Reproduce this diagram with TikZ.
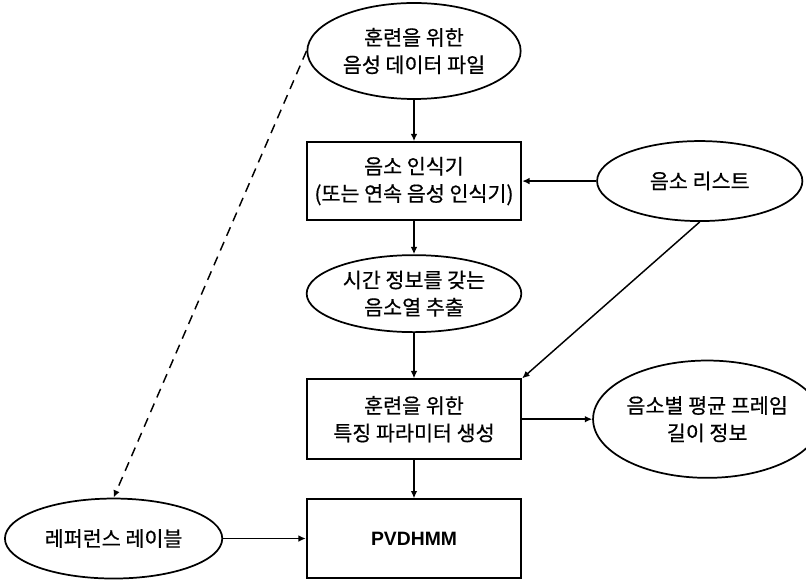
\documentclass[tikz,border=0pt]{standalone}
\usepackage{fontspec}
\setmainfont{Noto Sans CJK KR}[FakeBold=0.6]
\newfontfamily\arialfont{Liberation Sans}
\usetikzlibrary{arrows.meta,positioning,shapes.geometric}

\begin{document}
\begin{tikzpicture}[
  x=0.75pt, y=-0.75pt,
  font=\fontsize{15.5}{20.5}\selectfont,
  box/.style={draw=black, rectangle, line width=1.3pt, minimum width=161pt, minimum height=59pt, align=center, inner sep=3pt},
  oval/.style={draw=black, ellipse, line width=1.3pt, minimum width=160pt, minimum height=60pt, align=center, inner sep=0pt},
  arrow/.style={-{Latex[length=5.5pt, width=5pt]}, line width=1.1pt},
]
  \useasboundingbox (0,0) rectangle (806,580);

  \node[oval, minimum height=72pt] (data) at (414,51) {훈련을 위한\\음성 데이터 파일};
  \node[box, minimum height=58.5pt, below=31pt of data] (recog) {음소 인식기\\(또는 연속 음성 인식기)};
  \node[oval, minimum width=161pt, minimum height=57.75pt, below=25pt of recog] (seq) {시간 정보를 갖는\\음소열 추출};
  \node[box, minimum height=60pt, below=34pt of seq] (param) {훈련을 위한\\특징 파라미터 생성};
  \node[box, minimum height=59pt, below=28.7pt of param] (pvd) {\arialfont\bfseries\fontsize{14.5}{17}\selectfont PVDHMM};

  \node[oval, minimum width=154pt, right=55.5pt of recog] (list) {음소 리스트};
  \node[oval, minimum width=158pt, minimum height=88pt, right=52.5pt of param] (frame) {음소별 평균 프레임\\길이 정보};
  \node[oval, minimum width=163pt, left=62pt of pvd] (label) {레퍼런스 레이블};

  \draw[arrow] (data) -- (recog);
  \draw[arrow] (recog) -- (seq);
  \draw[arrow] (seq) -- (param);
  \draw[arrow] (param) -- (pvd);
  \draw[arrow] (list) -- (recog);
  \draw[arrow] (list.south) -- (param.north east);
  \draw[arrow] (param.east) -- (frame.west);
  \draw[arrow] (label) -- (pvd);
  \draw[arrow, dashed, dash pattern=on 7pt off 5pt] (data.west) -- (label.north);
\end{tikzpicture}
\end{document}
